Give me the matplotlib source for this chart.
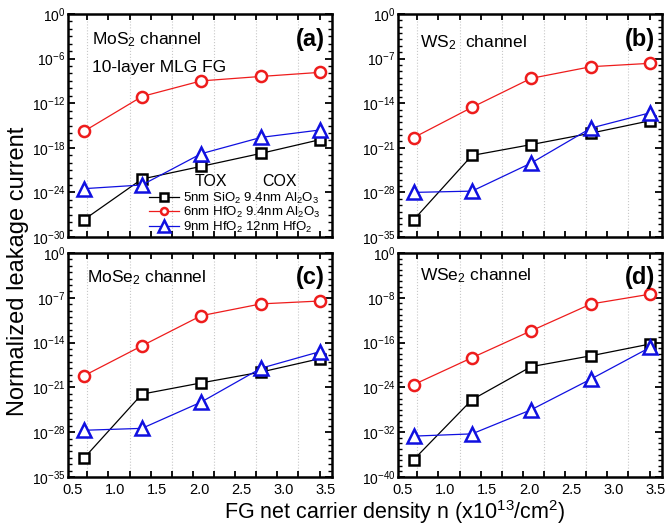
import numpy as np
import matplotlib
matplotlib.use('Agg')
import matplotlib.pyplot as plt
from matplotlib.lines import Line2D

plt.rcParams['font.family'] = ['Liberation Sans', 'DejaVu Sans']
plt.rcParams['mathtext.default'] = 'regular'

# FG net carrier density (x1e13 /cm^2)
n_fg = [0.63, 1.32, 2.02, 2.73, 3.43]

# log10 of normalized leakage current
mos2_sio2 = [-27.7, -22.2, -20.5, -18.75, -16.9]
mos2_hfo2_al = [-15.8, -11.1, -9.0, -8.4, -7.85]
mos2_hfo2_hf = [-23.5, -23.0, -18.8, -16.6, -15.6]

ws2_sio2 = [-32.3, -22.2, -20.5, -18.7, -16.75]
ws2_hfo2_al = [-19.4, -14.65, -10.1, -8.27, -7.74]
ws2_hfo2_hf = [-28.0, -27.8, -23.4, -17.9, -15.5]

mose2_sio2 = [-32.1, -22.05, -20.3, -18.6, -16.5]
mose2_hfo2_al = [-19.2, -14.5, -9.8, -7.95, -7.5]
mose2_hfo2_hf = [-27.7, -27.4, -23.3, -18.0, -15.4]

wse2_sio2 = [-36.9, -26.2, -20.3, -18.35, -16.25]
wse2_hfo2_al = [-23.5, -18.7, -13.9, -9.1, -7.35]
wse2_hfo2_hf = [-32.7, -32.3, -28.0, -22.5, -16.85]

x_labels = ['0.5', '1.0', '1.5', '2.0', '2.5', '3.0', '3.5']
x_label_pos = [0.5, 1.0, 1.5, 2.0, 2.5, 3.0, 3.5]

legend_labels = ['5nm SiO$_2$ 9.4nm Al$_2$O$_3$',
                 '6nm HfO$_2$ 9.4nm Al$_2$O$_3$',
                 '9nm HfO$_2$ 12nm HfO$_2$']

panels = [
    # (rect, data, ylow, ystep, letter, channel text, text pos)
    ([68/665, 1-237/527, 264/665, 223/527], (mos2_sio2, mos2_hfo2_al, mos2_hfo2_hf), -30, 6, '(a)', 'MoS$_2$ channel', (0.091, 0.883)),
    ([398/665, 1-237/527, 264/665, 223/527], (ws2_sio2, ws2_hfo2_al, ws2_hfo2_hf), -35, 7, '(b)', 'WS$_2$  channel', (0.083, 0.87)),
    ([68/665, 1-477/527, 264/665, 224/527], (mose2_sio2, mose2_hfo2_al, mose2_hfo2_hf), -35, 7, '(c)', 'MoSe$_2$ channel', (0.072, 0.888)),
    ([398/665, 1-477/527, 264/665, 224/527], (wse2_sio2, wse2_hfo2_al, wse2_hfo2_hf), -40, 8, '(d)', 'WSe$_2$ channel', (0.083, 0.897)),
]

styles = [dict(color='black', marker='s', ms=7),
          dict(color='#ee1c1c', marker='o', ms=8),
          dict(color='#1010e0', marker='^', ms=9.5)]

fig = plt.figure(figsize=(6.65, 5.27), dpi=100)

minor_x = np.arange(0.673, 3.6, 0.25)
grid_x = minor_x[::2]

axes = []
for rect, data, ylow, ystep, letter, chan, chan_pos in panels:
    ax = fig.add_axes(rect)
    for vals, st in zip(data, styles):
        ax.semilogy(n_fg, 10.0**np.array(vals), color=st['color'], lw=0.9,
                    marker=st['marker'], ms=st['ms'], mfc='white',
                    mec=st['color'], mew=1.8, zorder=3)
    for gx in grid_x:
        ax.axvline(gx, color='#c8c8c8', ls=':', lw=0.8, zorder=1)
    ax.set_xlim(0.444, 3.57)
    ax.set_ylim(10.0**ylow, 1)
    yt = np.arange(ylow, 1, ystep)
    ax.set_yticks(10.0**yt)
    ax.set_yticklabels(['$10^{%d}$' % v for v in yt])
    ax.set_yticks(10.0**np.arange(ylow, 1, 1), minor=True)
    ax.yaxis.set_minor_formatter(plt.NullFormatter())
    ax.set_xticks(x_label_pos)
    ax.set_xticklabels(x_labels if letter in ('(c)', '(d)') else [])
    ax.set_xticks(minor_x, minor=True)
    ax.tick_params(axis='x', which='major', length=0, labelsize=10.5, pad=4)
    ax.tick_params(axis='x', which='minor', direction='in', length=4, width=1.3, top=True, bottom=True)
    ax.tick_params(axis='y', which='major', direction='in', length=5, width=1.3, left=True, right=True, labelsize=10, pad=2)
    ax.tick_params(axis='y', which='minor', direction='in', length=3, width=1.0, left=True, right=True)
    for sp in ax.spines.values():
        sp.set_linewidth(1.8)
    ax.text(0.973, 0.885 if letter in ('(a)', '(b)') else 0.892, letter, transform=ax.transAxes,
            ha='right', va='center', fontsize=17, fontweight='bold')
    ax.text(chan_pos[0], chan_pos[1], chan, transform=ax.transAxes,
            ha='left', va='center', fontsize=12.5)
    axes.append(ax)

ax_a = axes[0]
ax_a.text(0.091, 0.762, '10-layer MLG FG', transform=ax_a.transAxes,
          ha='left', va='center', fontsize=12.5)
ax_a.text(0.54, 0.25, 'TOX', transform=ax_a.transAxes, ha='center', va='center', fontsize=11.5)
ax_a.text(0.80, 0.25, 'COX', transform=ax_a.transAxes, ha='center', va='center', fontsize=11.5)

handles = [Line2D([], [], color=st['color'], lw=0.9, marker=st['marker'],
                  ms=ms, mfc='white', mec=st['color'], mew=1.8)
           for st, ms in zip(styles, [6, 5, 8])]
ax_a.legend(handles, legend_labels, loc='lower left', bbox_to_anchor=(0.3, 0.005),
            frameon=False, fontsize=9.5, handlelength=2.3, handletextpad=0.3,
            labelspacing=-0.05, borderpad=0.1, borderaxespad=0)

fig.text(0.027, 0.486, 'Normalized leakage current', rotation=90,
         ha='center', va='center', fontsize=17)
fig.text(0.594, 0.028, 'FG net carrier density n (x10$^{13}$/cm$^{2}$)',
         ha='center', va='center', fontsize=15.5)

fig.savefig('out.png', dpi=100)
